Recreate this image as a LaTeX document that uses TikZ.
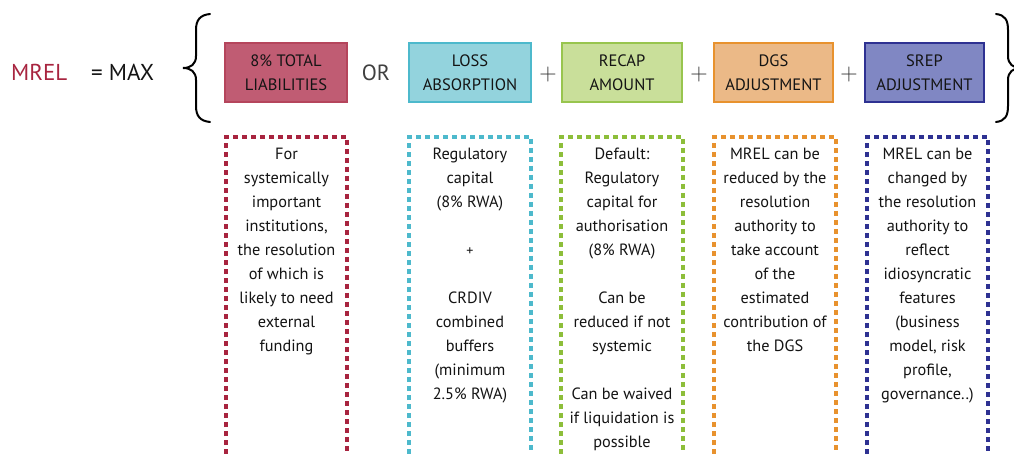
\documentclass[tikz,border=0pt]{standalone}
\usepackage{fontspec}
\setmainfont{PT Sans}
\newfontfamily\lmr{Latin Modern Roman}
\definecolor{cRed}{HTML}{A8243F}
\definecolor{fRed}{HTML}{C05C73}
\definecolor{fCyan}{HTML}{93D3DD}
\definecolor{cCyan}{HTML}{4DB9CC}
\definecolor{fGreen}{HTML}{C9DF9A}
\definecolor{cGreen}{HTML}{8DBE3A}
\definecolor{fOrange}{HTML}{EBB987}
\definecolor{cOrange}{HTML}{E8922E}
\definecolor{fNavy}{HTML}{8087C3}
\definecolor{cNavy}{HTML}{2E3192}
\definecolor{ink}{HTML}{141414}
\begin{document}
\begin{tikzpicture}[x=1pt,y=-1pt,
  hdr/.style={draw, line width=1.1pt, minimum height=59pt, inner sep=0pt,
    align=center, font=\fontsize{16.5}{24}\selectfont, text=ink},
  dbox/.style={dash pattern=on 5pt off 4pt, line width=3.2pt},
  body/.style={align=center, anchor=north, inner sep=0pt,
    font=\fontsize{16.3}{24}\selectfont, text=ink},
  plussign/.style={font=\lmr\fontsize{24}{24}\selectfont, text=black!80, inner sep=0pt},
  bracestyle/.style={line width=2pt, line cap=round}]
\useasboundingbox (0,0) rectangle (1014,454);
\clip (0,0) rectangle (1014,454);
\fill[white] (0,0) rectangle (1014,454);

% formula head
\node[anchor=base west, inner sep=0pt, text=cRed, font=\fontsize{23}{23}\selectfont] (mrel) at (11,80.5) {MREL};
\node[anchor=base west, inner sep=0pt, text=ink, font=\fontsize{23}{23}\selectfont] (max) at (91,80.5) {= MAX};

% braces
\draw[bracestyle] (210,14) .. controls (200,15) and (196,20) .. (196,30) -- (196,56)
   .. controls (196,64) and (191,68) .. (183,68) .. controls (191,68) and (196,72) .. (196,80)
   -- (196,106) .. controls (196,116) and (200,121) .. (210,122);
\draw[bracestyle] (996,14) .. controls (1005,15) and (1008,20) .. (1008,30) -- (1008,56)
   .. controls (1008,64) and (1013,68) .. (1021,68) .. controls (1013,68) and (1008,72) .. (1008,80)
   -- (1008,106) .. controls (1008,116) and (1005,121) .. (996,122);

% header boxes
\node[hdr, minimum width=122pt, fill=fRed, draw=cRed!85] (h1) at (286,72.5) {8\% TOTAL\\LIABILITIES};
\node[hdr, minimum width=122pt, fill=fCyan, draw=cCyan] (h2) at (470,72.5) {LOSS\\ABSORPTION};
\node[hdr, minimum width=120pt, fill=fGreen, draw=cGreen!90] (h3) at (622,72.5) {RECAP\\AMOUNT};
\node[hdr, minimum width=119pt, fill=fOrange, draw=cOrange] (h4) at (773.5,72.5) {DGS\\ADJUSTMENT};
\node[hdr, minimum width=119pt, fill=fNavy, draw=cNavy] (h5) at (924.5,72.5) {SREP\\ADJUSTMENT};

% operators
\node[inner sep=0pt, text=black!75, font=\fontsize{22}{22}\selectfont] (or) at (376,73) {OR};
\node[plussign] (p1) at (548,74.5) {+};
\node[plussign] (p2) at (699,74.5) {+};
\node[plussign] (p3) at (849,74.5) {+};

% dashed boxes (open at the bottom)
\draw[dbox, cRed] (226,454) -- (226,137) -- (347,137) -- (347,454);
\draw[dbox, cCyan] (409,454) -- (409,137) -- (531,137) -- (531,454);
\draw[dbox, cGreen] (561,454) -- (561,137) -- (683,137) -- (683,454);
\draw[dbox, cOrange] (714,454) -- (714,137) -- (836,137) -- (836,454);
\draw[dbox, cNavy] (867,454) -- (867,137) -- (988,137) -- (988,454);

% body texts
\node[body] (t1) at (286.5,147.5) {For\\systemically\\important\\institutions,\\the resolution\\of which is\\likely to need\\external\\funding};
\node[body] (t2) at (470,147.5) {Regulatory\\capital\\(8\% RWA)\\[24pt]{\fontsize{14}{24}\selectfont +}\\[24pt]CRDIV\\combined\\buffers\\(minimum\\2.5\% RWA)};
\node[body] (t3) at (622,147.5) {Default:\\Regulatory\\capital for\\authorisation\\(8\% RWA)\\[24pt]Can be\\reduced if not\\systemic\\[24pt]Can be waived\\if liquidation is\\possible};
\node[body] (t4) at (775,147.5) {MREL can be\\reduced by the\\resolution\\authority to\\take account\\of the\\estimated\\contribution of\\the DGS};
\node[body] (t5) at (927.5,147.5) {MREL can be\\changed by\\the resolution\\authority to\\reflect\\idiosyncratic\\features\\(business\\model, risk\\profile,\\governance..)};
\end{tikzpicture}
\end{document}
